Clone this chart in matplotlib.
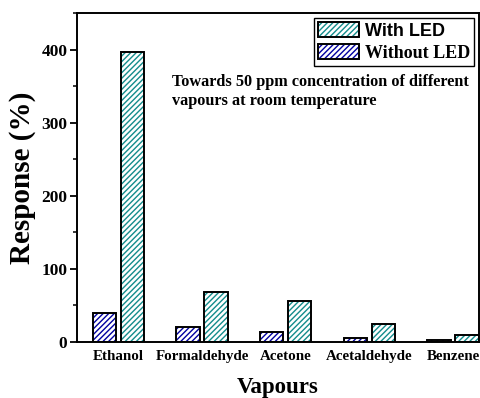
import matplotlib
matplotlib.use("Agg")
import matplotlib.pyplot as plt
from matplotlib.patches import Patch
from matplotlib.ticker import MultipleLocator
import numpy as np

vapours = ["Ethanol", "Formaldehyde", "Acetone", "Acetaldehyde", "Benzene"]
with_led = [397, 68, 56, 25, 10]
without_led = [39, 21, 13, 5, 3]

serif = "Liberation Serif"
sans = "Liberation Sans"
teal = "#138c8c"
navy = "#0000a0"
pattern = "//////"

plt.rcParams["hatch.linewidth"] = 1.0

fig = plt.figure(figsize=(4.8, 3.98), dpi=100)
ax = fig.add_axes([77 / 480, 1 - 342 / 398, 402 / 480, 329 / 398])

x = np.arange(len(vapours))
w = 0.28
off = 0.167

def hatched_bars(xpos, vals, color):
    ax.bar(xpos, vals, w, facecolor="white", edgecolor=color, hatch=pattern,
           linewidth=0, zorder=2)
    ax.bar(xpos, vals, w, fill=False, edgecolor="black", linewidth=1.4, zorder=3)

hatched_bars(x - off, without_led, navy)
hatched_bars(x + off, with_led, teal)

ax.set_xlim(-0.494, 4.31)
ax.set_ylim(0, 450)
ax.set_xticks(x)
ax.set_xticklabels(vapours, fontfamily=serif, fontweight="bold", fontsize=10.8)
ax.tick_params(axis="x", length=0, pad=6)
ax.yaxis.set_major_locator(MultipleLocator(100))
ax.yaxis.set_minor_locator(MultipleLocator(50))
ax.tick_params(axis="y", which="major", direction="out", length=5, width=1.3, pad=2)
ax.tick_params(axis="y", which="minor", direction="out", length=3, width=1.1)
for lab in ax.get_yticklabels():
    lab.set_fontfamily(serif)
    lab.set_fontweight("bold")
    lab.set_fontsize(12.5)
for s in ax.spines.values():
    s.set_linewidth(1.4)

ax.set_ylabel("Response (%)", fontfamily=serif, fontweight="bold", fontsize=21, labelpad=4)
ax.set_xlabel("Vapours", fontfamily=serif, fontweight="bold", fontsize=16.5, labelpad=10)

ax.text(0.236, 0.815, "Towards 50 ppm concentration of different\nvapours at room temperature",
        transform=ax.transAxes, ha="left", va="top", fontfamily=serif,
        fontweight="bold", fontsize=11.7, linespacing=1.3)

h_with = (Patch(facecolor="white", edgecolor=teal, hatch=pattern, linewidth=0),
          Patch(fill=False, edgecolor="black", linewidth=1.4))
h_without = (Patch(facecolor="white", edgecolor=navy, hatch=pattern, linewidth=0),
             Patch(fill=False, edgecolor="black", linewidth=1.4))
leg = ax.legend([h_with, h_without], ["With LED", "Without LED"], loc="upper right",
                fancybox=False, framealpha=1, edgecolor="black", fontsize=13,
                handlelength=2.3, handleheight=0.9, handletextpad=0.3,
                labelspacing=0.25, borderpad=0.2, borderaxespad=0.3)
leg.get_frame().set_linewidth(1.0)
t1, t2 = leg.get_texts()
t1.set_fontfamily(sans)
t1.set_fontweight("bold")
t2.set_fontfamily(serif)
t2.set_fontweight("bold")

fig.savefig("out.png", dpi=100)
